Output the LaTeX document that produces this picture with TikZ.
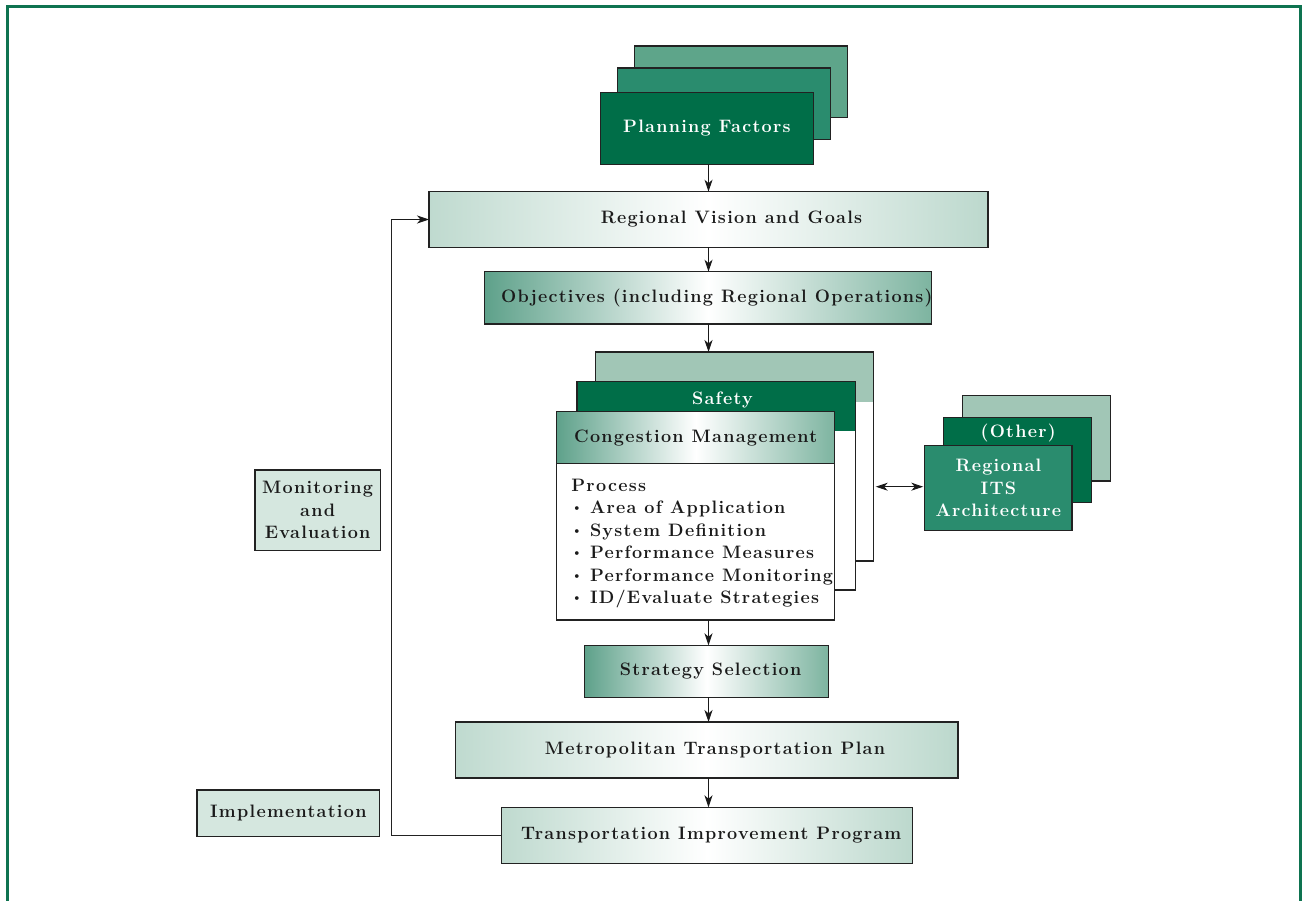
\documentclass[tikz,border=0pt]{standalone}
\usepackage{fontspec}
\usetikzlibrary{arrows.meta}
\definecolor{frameg}{HTML}{0E7350}
\definecolor{dkg}{HTML}{006E48}
\definecolor{mdg}{HTML}{2A8C6E}
\definecolor{ltg}{HTML}{5EA58A}
\definecolor{pale}{HTML}{A1C6B6}
\definecolor{mint}{HTML}{BFDACF}
\definecolor{flat}{HTML}{D5E7DF}
\definecolor{tealg}{HTML}{5EA18A}
\definecolor{tealr}{HTML}{7DB4A0}
\definecolor{ink}{HTML}{1A1A1A}
\definecolor{edge}{HTML}{222222}
\newfontfamily\diaface{Latin Modern Roman}[LetterSpace=7]
\newcommand\diafont{\diaface\fontsize{18}{22.5}\selectfont\bfseries}
\newcommand\shifted[2]{\makebox[0pt]{\hspace*{#1}#2}}
\newcommand\bul{\makebox[18.6pt][l]{\raisebox{1.8pt}{\scalebox{0.7}{\textbullet}}}}
\begin{document}
\begin{tikzpicture}[x=1pt,y=-1pt,
  box/.style={draw=edge, line width=1.1pt, rectangle, inner sep=0pt, outer sep=0pt,
    anchor=north west, font=\diafont, text=ink, align=center},
  lightshade/.style={left color=mint, right color=mint!95!tealr, middle color=white},
  darkshade/.style={left color=tealg, right color=tealr, middle color=white},
  txt/.style={inner sep=0pt, font=\diafont, align=center},
  arr/.style={-{Stealth[length=12pt,width=8pt,inset=3.5pt]}, line width=1pt, draw=ink},
  darr/.style={{Stealth[length=12pt,width=8pt,inset=3.5pt]}-{Stealth[length=12pt,width=8pt,inset=3.5pt]}, line width=1pt, draw=ink},
  fback/.style={line width=1.1pt, draw=edge}]
\useasboundingbox (0,0) rectangle (1304,901);
\draw[frameg, line width=2.6pt] (7.2,960) -- (7.2,6.3) -- (1300.5,6.3) -- (1300.5,960);

% Planning factors stack
\node[box, fill=ltg, minimum width=212.7pt, minimum height=71.7pt] (pf3) at (634.6,46) {};
\node[box, fill=mdg, minimum width=212.8pt, minimum height=71.3pt] (pf2) at (617.5,68) {};
\node[box, fill=dkg, text=white, minimum width=212.8pt, minimum height=71.6pt] (pf) at (600.5,92.7) {Planning Factors};

% Regional vision
\node[box, lightshade, minimum width=559pt, minimum height=55.6pt] (rv) at (429,191.7) {\shifted{46pt}{Regional Vision and Goals}};
% Objectives
\node[box, darkshade, minimum width=447.3pt, minimum height=52.3pt] (obj) at (484.4,271.7) {\shifted{17.6pt}{Objectives (including Regional Operations)}};

% central stack
\node[box, fill=white, minimum width=278.2pt, minimum height=209pt,
  path picture={\fill[pale] (path picture bounding box.north west) rectangle ([yshift=-49.7pt]path picture bounding box.north east);}] (sb) at (595.5,352) {};
\node[box, fill=white, minimum width=278.2pt, minimum height=208.3pt,
  path picture={\fill[dkg] (path picture bounding box.north west) rectangle ([yshift=-49.3pt]path picture bounding box.north east);}] (sm) at (577,381.7) {};
\node[box, fill=white, minimum width=278.3pt, minimum height=208.3pt,
  path picture={\shade[darkshade] (path picture bounding box.north west) rectangle ([yshift=-51.6pt]path picture bounding box.north east);}] (cm) at (556.6,411.7) {};
\draw[fback] (cm.west |- 0,463.3) -- (cm.east |- 0,463.3);
\node[txt, text=white] (safety) at (722.5,399.5) {Safety};
\node[txt, text=ink] (cmt) at (695.7,438) {Congestion Management};
\node[txt, text=ink, anchor=north west, align=left] (proc) at (571.2,478.5) {Process\\
\bul Area of Application\\
\bul System Definition\\
\bul Performance Measures\\
\bul Performance Monitoring\\
\bul ID/Evaluate Strategies};

% right stack
\node[box, fill=pale, minimum width=147.6pt, minimum height=85.3pt] (r3) at (962.9,395.7) {};
\node[box, fill=dkg, minimum width=147.9pt, minimum height=85.4pt] (r2) at (943.3,417.3) {};
\node[txt, text=white] (other) at (1018.2,433.5) {(Other)};
\node[box, fill=mdg, text=white, minimum width=147.2pt, minimum height=85pt] (its) at (924.8,445.7) {Regional\\ITS\\Architecture};

% lower chain
\node[box, darkshade, minimum width=243.9pt, minimum height=52pt] (ss) at (584.7,645.3) {\shifted{8pt}{Strategy Selection}};
\node[box, lightshade, minimum width=502.7pt, minimum height=56pt] (mtp) at (455.3,722) {\shifted{16.6pt}{Metropolitan Transportation Plan}};
\node[box, lightshade, minimum width=411pt, minimum height=56pt] (tip) at (501.9,807.3) {\shifted{7.8pt}{Transportation Improvement Program}};

% left boxes
\node[box, fill=flat, minimum width=125.3pt, minimum height=80.7pt] (mon) at (255,470) {Monitoring\\and\\Evaluation};
\node[box, fill=flat, minimum width=182.7pt, minimum height=46.7pt] (impl) at (197,790) {Implementation};

% connectors
\draw[arr] (708.5,0 |- pf.south) -- (708.5,0 |- rv.north);
\draw[arr] (708.5,0 |- rv.south) -- (708.5,0 |- obj.north);
\draw[arr] (708.5,0 |- obj.south) -- (708.5,0 |- sb.north);
\draw[arr] (708.5,0 |- cm.south) -- (708.5,0 |- ss.north);
\draw[arr] (708.5,0 |- ss.south) -- (708.5,0 |- mtp.north);
\draw[arr] (708.5,0 |- mtp.south) -- (708.5,0 |- tip.north);
\draw[darr, shorten <=2pt, shorten >=1.5pt] (sb.east |- 0,486.7) -- (its.west |- 0,486.7);
\coordinate (fb) at (391.5,219.5);
\draw[fback] (tip.west) -| (fb);
\draw[arr, line width=1.1pt] (fb) -- (rv.west);
\end{tikzpicture}
\end{document}
